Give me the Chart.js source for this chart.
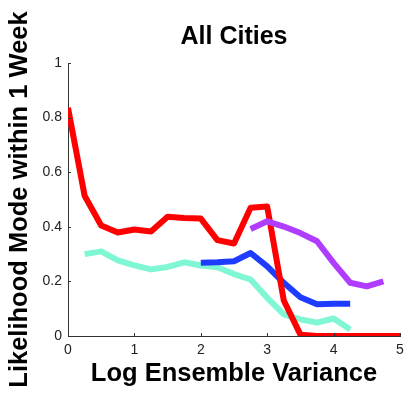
<!DOCTYPE html>
<html>
<head>
<meta charset="utf-8">
<script src="https://cdn.jsdelivr.net/npm/chart.js@4/dist/chart.umd.min.js"></script>
<style>
html,body{margin:0;padding:0;background:#fff;}
#wrap{width:411px;height:393px;position:relative;}
</style>
</head>
<body>
<div id="wrap"><canvas id="c" width="411" height="393"></canvas></div>
<script>
const titleText = "All Cities";
const xTitle = "Log Ensemble Variance";
const yTitle = "Likelihood Mode within 1 Week";

const redX = [0,0.25,0.5,0.75,1,1.25,1.5,1.75,2,2.25,2.5,2.75,3,3.25,3.5,3.75,4,4.25,4.5,4.75,5];
const redY = [0.836,0.514,0.405,0.379,0.39,0.383,0.437,0.432,0.43,0.351,0.339,0.47,0.474,0.13,0.005,0,0,0,0,0,0];

const cyanX = [0.25,0.5,0.75,1,1.25,1.5,1.75,2,2.25,2.5,2.75,3,3.25,3.5,3.75,4,4.25];
const cyanY = [0.30,0.31,0.277,0.259,0.244,0.253,0.27,0.258,0.252,0.227,0.207,0.14,0.079,0.061,0.049,0.064,0.024];

const blueX = [2,2.25,2.5,2.75,3,3.25,3.5,3.75,4,4.25];
const blueY = [0.268,0.27,0.274,0.304,0.255,0.195,0.142,0.116,0.118,0.118];

const purpleX = [2.75,3,3.25,3.5,3.75,4,4.25,4.5,4.75];
const purpleY = [0.392,0.42,0.401,0.377,0.347,0.268,0.195,0.182,0.20];

const xTicks = [0,1,2,3,4,5];
const yTicks = [0,0.2,0.4,0.6,0.8,1];

function pts(xs, ys){ return xs.map((x,i)=>({x:x,y:ys[i]})); }

const innerTicks = {
  id:'innerTicks',
  afterDraw(chart){
    const ctx = chart.ctx, ca = chart.chartArea;
    const xs = chart.scales.x, ys = chart.scales.y;
    ctx.save();
    ctx.strokeStyle = '#333';
    ctx.lineWidth = 1;
    ctx.beginPath();
    xTicks.forEach(v=>{ const px = Math.round(xs.getPixelForValue(v))+0.5; ctx.moveTo(px, ca.bottom); ctx.lineTo(px, ca.bottom-3); });
    yTicks.forEach(v=>{ const py = Math.round(ys.getPixelForValue(v))+0.5; ctx.moveTo(ca.left, py); ctx.lineTo(ca.left+3, py); });
    ctx.stroke();
    ctx.restore();
  }
};

const FONT = "'Liberation Sans', Arial, Helvetica, sans-serif";
const ds = (label, xs, ys, color) => ({
  label, data: pts(xs, ys), borderColor: color, backgroundColor: color,
  borderWidth: 6, pointRadius: 0, tension: 0, fill: false,
  borderJoinStyle: 'round', borderCapStyle: 'butt'
});

new Chart(document.getElementById('c'), {
  type: 'line',
  data: {
    datasets: [
      ds('purple', purpleX, purpleY, '#B03CFF'),
      ds('red', redX, redY, '#FF0000'),
      ds('blue', blueX, blueY, '#1E3CFF'),
      ds('cyan', cyanX, cyanY, '#7FF7D4')
    ]
  },
  options: {
    responsive: false,
    animation: false,
    devicePixelRatio: 1,
    layout: { padding: { left: 0, right: 11, top: 0, bottom: 0 } },
    plugins: {
      legend: { display: false },
      tooltip: { enabled: false },
      title: {
        display: true, text: titleText, color: '#000', fullSize: false,
        font: { family: FONT, size: 25, weight: 'bold', lineHeight: 1.2 },
        padding: { top: 22, bottom: 11 }
      }
    },
    scales: {
      x: {
        type: 'linear', min: 0, max: 5,
        afterFit(s){ s.height = 57; },
        afterBuildTicks(s){ s.ticks = xTicks.map(v=>({value:v})); },
        grid: { display: false, drawTicks: false },
        border: { display: true, color: '#333', width: 1 },
        ticks: { color: '#222', padding: 6, maxRotation: 0, font: { family: FONT, size: 14 },
          callback: v => String(v) },
        title: { display: true, text: xTitle, color: '#000', padding: { top: 0, bottom: 4 },
          font: { family: FONT, size: 25.5, weight: 'bold', lineHeight: 1.2 } }
      },
      y: {
        type: 'linear', min: 0, max: 1,
        afterFit(s){ s.width = 68; },
        afterBuildTicks(s){ s.ticks = yTicks.map(v=>({value:v})); },
        grid: { display: false, drawTicks: false },
        border: { display: true, color: '#333', width: 1 },
        ticks: { color: '#222', padding: 6, font: { family: FONT, size: 14 },
          callback: v => String(v) },
        title: { display: true, text: yTitle, color: '#000', padding: { top: 5, bottom: 0 },
          font: { family: FONT, size: 25.5, weight: 'bold', lineHeight: 1.2 } }
      }
    }
  },
  plugins: [innerTicks]
});
</script>
</body>
</html>
